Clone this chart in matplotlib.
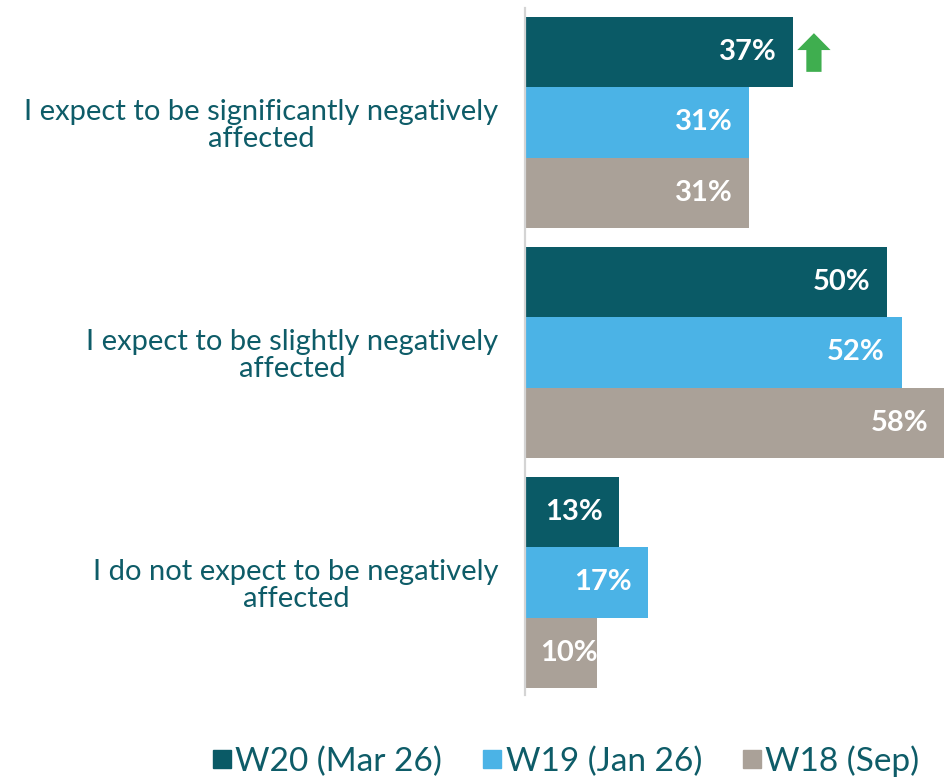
import matplotlib
matplotlib.use("Agg")
import matplotlib.pyplot as plt
from matplotlib.lines import Line2D
from matplotlib.patches import FancyArrow

# Survey responses, share of respondents per wave
categories = [
    "I expect to be significantly negatively\naffected",
    "I expect to be slightly negatively\naffected",
    "I do not expect to be negatively\naffected",
]
waves = ["W20 (Mar 26)", "W19 (Jan 26)", "W18 (Sep)"]
w20 = [37, 50, 13]
w19 = [31, 52, 17]
w18 = [31, 58, 10]
# significant increase vs previous wave, per category (W20 only)
w20_up = [True, False, False]

colors = ["#0a5a66", "#4bb3e6", "#aaa198"]
text_color = "#0e5c68"
arrow_color = "#3fae4f"

plt.rcParams["font.family"] = ["Lato", "DejaVu Sans"]

fig = plt.figure(figsize=(9.45, 7.78), dpi=100)
ax = fig.add_axes([525 / 945, 1 - 695 / 778, 420 / 945, 687 / 778])

step = 230 / 70.33
series = [w20, w19, w18]
for k, (vals, col) in enumerate(zip(series, colors)):
    ys = [g * step + k for g in range(len(categories))]
    bars = ax.barh(ys, vals, height=1.0, color=col, label=waves[k])
    for bar, v in zip(bars, vals):
        yc = bar.get_y() + 0.5
        if v >= 12:
            t = ax.annotate(f"{v}%", xy=(v, yc), xytext=(-12, 0),
                            textcoords="offset points", ha="right", va="center",
                            color="white", fontsize=21, fontweight="bold")
        else:
            # too short for an end label: start it from the bar base
            t = ax.annotate(f"{v}%", xy=(0, yc), xytext=(11, 0),
                            textcoords="offset points", ha="left", va="center",
                            color="white", fontsize=21, fontweight="bold")
        t.set_clip_path(bar)

# up arrows next to W20 bars that rose
for g, (v, up) in enumerate(zip(w20, w20_up)):
    if up:
        ax.add_patch(FancyArrow(v + 2.9, g * step + 0.28, 0, -0.55, width=2.1,
                                head_width=4.6, head_length=0.24,
                                length_includes_head=True, color=arrow_color,
                                clip_on=False, lw=0))

ax.set_xlim(0, 58)
ax.set_ylim(2 * step + 2.6, -0.628)
ax.set_xticks([])
ax.set_yticks([g * step + 1 for g in range(len(categories))])
ax.set_yticklabels(categories, fontsize=21, color=text_color)
for t in ax.get_yticklabels():
    t.set_multialignment("center")
    t.set_linespacing(1.05)
ax.tick_params(axis="y", length=0, pad=19)
for side in ["top", "right", "bottom"]:
    ax.spines[side].set_visible(False)
ax.spines["left"].set_color("#d4d4d4")
ax.spines["left"].set_linewidth(1.6)

handles = [Line2D([], [], marker="s", linestyle="", markersize=13,
                  markerfacecolor=c, markeredgecolor=c) for c in colors]
leg = fig.legend(handles, waves, loc="center", bbox_to_anchor=(564 / 945, 0.022),
                 ncol=3, frameon=False, fontsize=24, handletextpad=0.0,
                 columnspacing=1.1, handlelength=0.8)
for t in leg.get_texts():
    t.set_color(text_color)

fig.savefig("out.png", dpi=100)
